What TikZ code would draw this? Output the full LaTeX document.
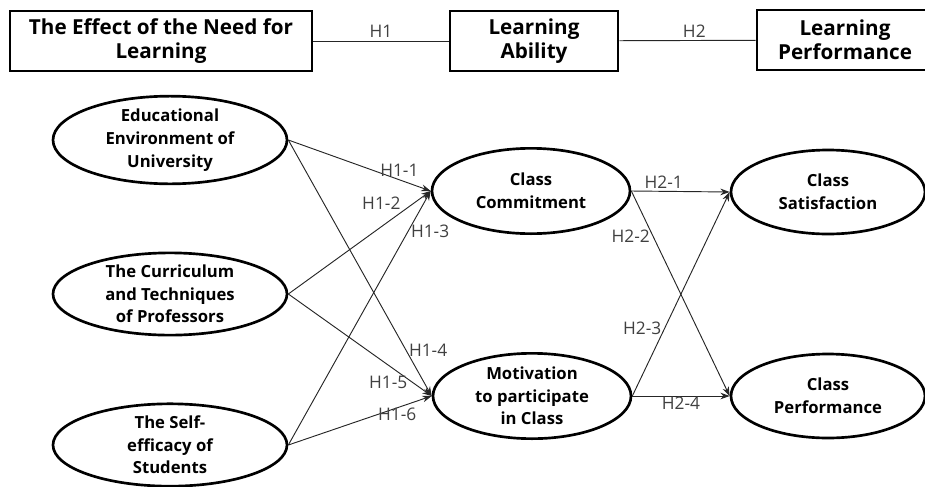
\documentclass[tikz,border=0pt]{standalone}
\usepackage{fontspec}
\setmainfont{Open Sans}
\usetikzlibrary{shapes.geometric}
\usetikzlibrary{arrows.meta}

\begin{document}
\begin{tikzpicture}[x=0.75pt,y=-0.75pt,
  topbox/.style={draw,line width=2pt,minimum height=45pt,inner sep=0pt,align=center,font=\fontsize{15.5}{18}\selectfont\bfseries},
  var/.style={draw,ellipse,line width=2pt,inner sep=0pt,align=center,font=\fontsize{12.5}{17}\selectfont\bfseries},
  hyp/.style={-{Stealth[length=7pt,width=5pt]},line width=0.7pt,black!85},
  hlab/.style={inner sep=1pt,text=black!75,font=\fontsize{13}{14}\selectfont}]
\useasboundingbox (0,0) rectangle (925,486);
% Draw the three boxes on top
\node[topbox,minimum width=226.5pt] (need) at (161,41) {The Effect of the Need for\\Learning};
\node[topbox,minimum width=126pt] (ability) at (534,41) {Learning\\Ability};
\node[topbox,minimum width=132pt] (lperf) at (845,40) {Learning\\Performance};
\draw[line width=0.7pt,black!85] (need) -- node[hlab,above=1pt]{H1} (ability);
\draw[line width=0.7pt,black!85] (ability) -- node[hlab,above=1pt,pos=0.55]{H2} (lperf);

% Left column
\node[var,minimum width=175.5pt,minimum height=61.5pt] (env) at (170,140) {Educational\\Environment of\\University};
\node[var,minimum width=175.5pt,minimum height=61.5pt] (curr) at (170,294) {The Curriculum\\and Techniques\\of Professors};
\node[var,minimum width=175.5pt,minimum height=61.5pt] (self) at (170,445) {The Self-\\efficacy of\\Students};
% Middle column
\node[var,minimum width=148.5pt,minimum height=64pt] (commit) at (531,191) {Class\\Commitment};
\node[var,minimum width=148.5pt,minimum height=64pt] (motiv) at (532,396) {Motivation\\to participate\\in Class};
% Right column
\node[var,minimum width=145.5pt,minimum height=63pt] (satis) at (828,192) {Class\\Satisfaction};
\node[var,minimum width=145.5pt,minimum height=63pt] (cperf) at (828,396) {Class\\Performance};

% H1 paths
\draw[hyp] (env.east) -- node[hlab,pos=0.78,above=1pt]{H1-1} (commit.west);
\draw[hyp] (curr.east) -- node[hlab,pos=0.8,above left=0pt]{H1-2} (commit.west);
\draw[hyp] (self.east) -- node[hlab,pos=0.84,right=1pt]{H1-3} (commit.west);
\draw[hyp] (env.east) -- node[hlab,pos=0.82,right=1pt]{H1-4} (motiv.west);
\draw[hyp] (curr.east) -- node[hlab,pos=0.87,left=3pt]{H1-5} (motiv.west);
\draw[hyp] (self.east) -- node[hlab,pos=0.76,below=-1pt]{H1-6} (motiv.west);

% H2 paths
\draw[hyp] (commit.east) -- node[hlab,pos=0.33,above=1pt]{H2-1} (satis.west);
\draw[hyp] (commit.east) -- node[hlab,pos=0.22,left=1pt]{H2-2} (cperf.west);
\draw[hyp] (motiv.east) -- node[hlab,pos=0.33,left=1pt]{H2-3} (satis.west);
\draw[hyp] (motiv.east) -- node[hlab,pos=0.5,below=-1pt]{H2-4} (cperf.west);
\end{tikzpicture}
\end{document}
